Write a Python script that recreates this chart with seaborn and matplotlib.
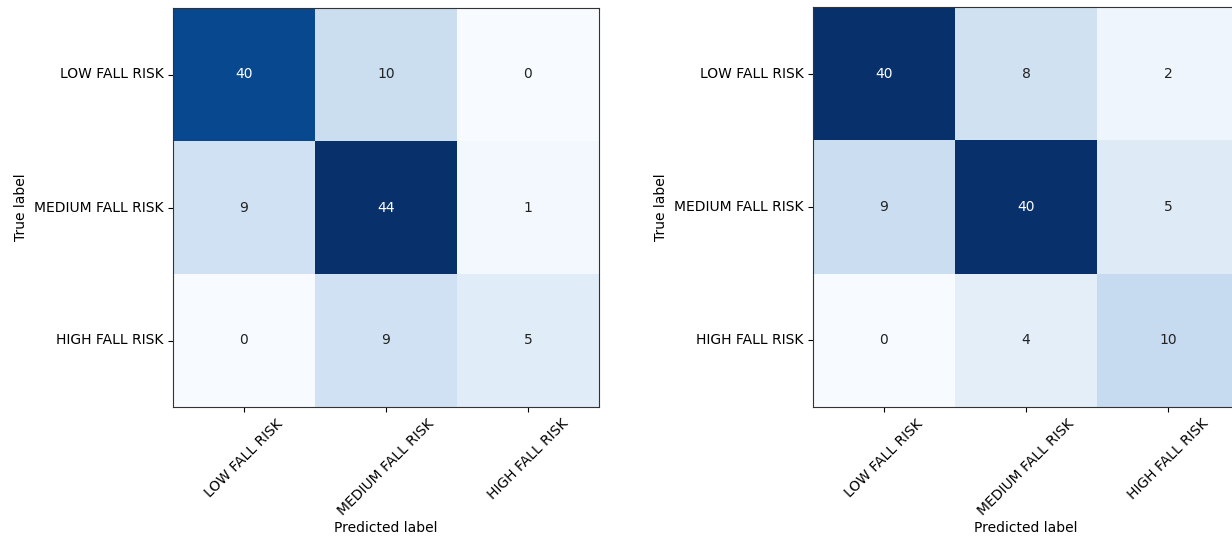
import seaborn as sns
import numpy as np
import pandas as pd
import matplotlib
matplotlib.use('Agg')
import matplotlib.pyplot as plt

# class names for both matrices
classes_true = ['LOW FALL RISK', 'MEDIUM FALL RISK', 'HIGH FALL RISK']
classes_pred = ['LOW FALL RISK', 'MEDIUM FALL RISK', 'HIGH FALL RISK']

# confusion matrix values (rows = true, cols = predicted)
cm_left = [[40, 10, 0],
           [9, 44, 1],
           [0, 9, 5]]
cm_right = [[40, 8, 2],
            [9, 40, 5],
            [0, 4, 10]]

plt.rcParams['font.family'] = ['DejaVu Sans']
plt.rcParams['font.size'] = 10

fig = plt.figure(figsize=(12.32, 5.36), dpi=100)
ax1 = fig.add_axes([173/1232, 129/536, 426/1232, 399/536])
ax2 = fig.add_axes([813/1232, 129/536, 426/1232, 400/536])


def plot_cm(ax, cm):
    df = pd.DataFrame(cm, index=classes_true, columns=classes_pred)
    arr = np.array(cm)
    thresh = arr.max() / 2.
    sns.heatmap(df, ax=ax, cmap='Blues', cbar=False, annot=False,
                vmin=arr.min(), vmax=arr.max(), square=False)
    for i in range(arr.shape[0]):
        for j in range(arr.shape[1]):
            ax.text(j + 0.5, i + 0.5, format(arr[i, j], 'd'),
                    ha='center', va='center', fontsize=10,
                    color='white' if arr[i, j] > thresh else '#222222')
    for s in ax.spines.values():
        s.set_visible(True)
        s.set_linewidth(0.8)
        s.set_color('#333333')
    ax.tick_params(axis='both', length=3.5, width=0.8, labelsize=10)
    plt.setp(ax.get_xticklabels(), rotation=45, ha='center')
    plt.setp(ax.get_yticklabels(), rotation=0)
    ax.set_ylabel('True label')
    ax.set_xlabel('Predicted label', labelpad=2)


plot_cm(ax1, cm_left)
plot_cm(ax2, cm_right)

plt.savefig('out.png', dpi=100)
